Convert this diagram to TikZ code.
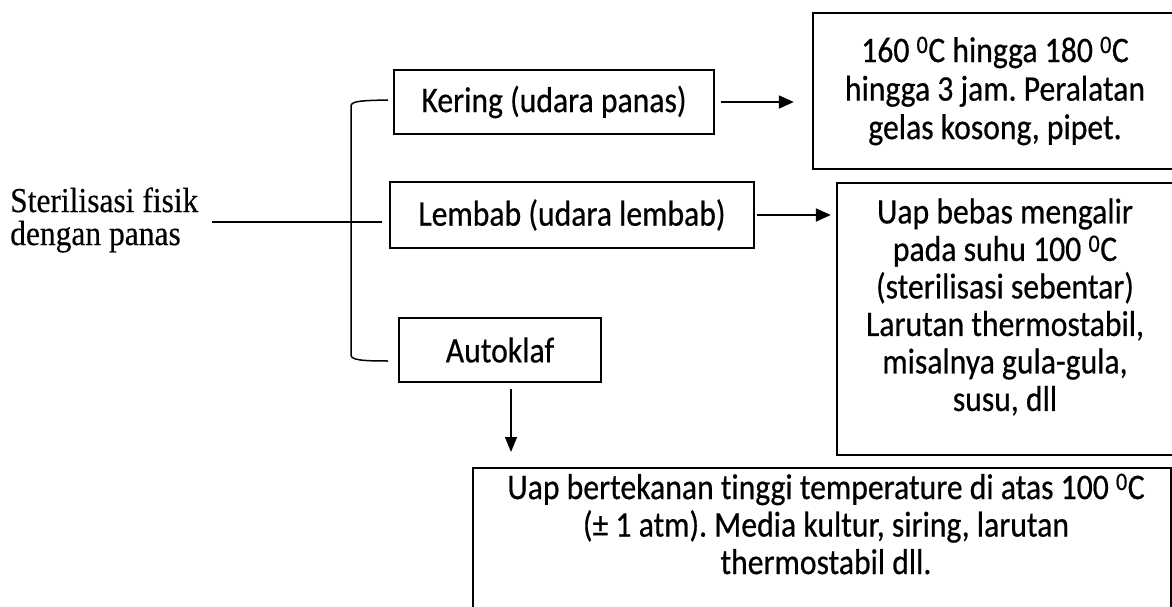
\documentclass[tikz,border=0pt]{standalone}
\usepackage{fontspec}
\setmainfont[FakeStretch=0.88,FakeBold=0.5,Ligatures=NoCommon]{Carlito}
\newfontfamily\tnr[FakeStretch=0.9,FakeBold=0.3]{Liberation Serif}
\usetikzlibrary{arrows.meta,calc}
\newcommand{\degz}{\textsuperscript{0}}
\frenchspacing
\begin{document}
\begin{tikzpicture}[x=1pt,y=-1pt,
  box/.style={draw, line width=2.4pt, inner sep=0pt, align=center, font=\fontsize{36}{38.5}\selectfont},
  txt/.style={align=center, inner sep=0pt, font=\fontsize{36}{37.5}\selectfont},
  arr/.style={line width=1.8pt, -{Triangle[length=15pt,width=13pt]}},
  darr/.style={line width=1.5pt, -{Triangle[length=15pt,width=12pt]}},
  brk/.style={line width=1.5pt},
  lnk/.style={line width=2pt},
]
\useasboundingbox (0,0) rectangle (1172,607);
\clip (0,0) rectangle (1172,607);

% left label
\node[txt, align=left, anchor=west, font=\tnr\fontsize{35}{33}\selectfont] (st) at (10,220) {Sterilisasi fisik\\dengan panas};

% category boxes
\node[box, minimum width=320pt, minimum height=64pt] (ker) at (554,102) {Kering (udara panas)};
\node[box, minimum width=364pt, minimum height=66pt] (lem) at (572,215) {Lembab (udara lembab)};
\node[box, minimum width=202pt, minimum height=64pt] (aut) at (500,350) {Autoklaf};

% description boxes
\node[box, minimum width=364pt, minimum height=156pt] (b1) at (995,91) {160 \degz C hingga 180 \degz C\\hingga 3 jam. Peralatan\\gelas kosong, pipet.};
\node[box, minimum width=338pt, minimum height=272pt] (b2) at (1006,319) {};
\node[txt] (b2t) at (1005,307) {Uap bebas mengalir\\pada suhu 100 \degz C\\(sterilisasi sebentar)\\Larutan thermostabil,\\misalnya gula-gula,\\susu, dll};
\node[box, minimum width=698pt, minimum height=180pt, anchor=north] (b3) at (822,467) {};
\node[txt] (b3t) at (826,524) {Uap bertekanan tinggi temperature di atas 100 \degz C\\(± 1 atm). Media kultur, siring, larutan\\thermostabil dll.};

% bracket
\coordinate (bt) at (388,100);
\coordinate (bb) at (388,361);
\draw[brk] (bt) .. controls (362,100.5) and (351,101) .. (351,106) -- (351,355) .. controls (351,360) and (362,361) .. (bb);

% link from label
\coordinate (j) at (212,222);
\draw[lnk, shorten >=7pt] (j) -- (j -| lem.west);

% arrows
\draw[arr, shorten <=6pt, shorten >=18pt] (ker.east) -- (ker.east -| b1.west);
\draw[arr, shorten <=2pt, shorten >=5pt] (lem.east) -- (lem.east -| b2.west);
\draw[darr, shorten <=6pt, shorten >=15pt] ([xshift=11pt]aut.south) -- ([xshift=11pt]aut.south |- b3.north);
\end{tikzpicture}
\end{document}
